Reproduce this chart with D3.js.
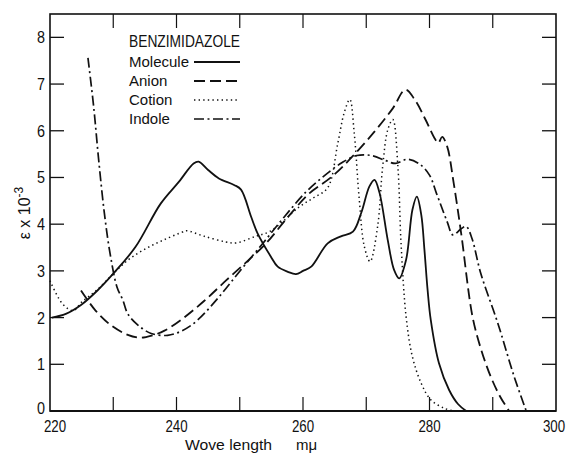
<!DOCTYPE html>
<meta charset="utf-8">
<script src="https://d3js.org/d3.v7.min.js"></script>
<style type="text/css">
body { margin: 0; background: #fff; }
.num { font-family: "Liberation Sans", Arial, sans-serif; font-size: 16px; fill: #111; }
.lab { font-family: "Liberation Sans", Arial, sans-serif; font-size: 15px; fill: #111; }
.title { font-family: "Liberation Sans", Arial, sans-serif; font-size: 16.5px; fill: #111; }
.frame line, .frame rect { stroke: #111; fill: none; }
.curve { fill: none; stroke: #111; stroke-linejoin: round; }
</style>
<body>
<div id="canvas"></div>
<script>

// absorption curves, [wave length (m\u03bc), epsilon x 10^-3]
var molecule = [[220.3,2.0],[222.5,2.08],[224.9,2.27],[227.5,2.58],[230,2.94],[233.5,3.51],[237.5,4.44],
  [240.4,4.91],[242.7,5.30],[243.5,5.34],[245,5.16],[246.7,4.98],[249.1,4.84],[250.2,4.74],[251.8,4.16],
  [252.8,3.81],[254.9,3.31],[256,3.09],[257.6,2.98],[258.9,2.93],[260,3.0],[261.3,3.09],[263.9,3.59],
  [266,3.74],[267.9,3.84],[269.2,4.24],[270.5,4.81],[271.3,4.95],[272.1,4.67],[273.4,3.66],[274.4,3.02],
  [275.2,2.84],[276.3,3.24],[277.3,4.31],[278,4.59],[278.7,4.2],[279.2,3.45],[279.7,2.59],[280.2,1.95],
  [281.5,1.02],[283.1,0.45],[284.5,0.15],[285.8,0]];

var anion = [[224.9,2.58],[227.2,2.15],[229.6,1.84],[232.3,1.63],[234.3,1.57],[236.2,1.62],[238.1,1.72],
  [240.9,1.97],[244.4,2.36],[247.8,2.79],[251.3,3.22],[254.1,3.58],[257.6,4.15],[261,4.66],[264.5,5.01],
  [267.9,5.46],[271.3,5.98],[274.2,6.48],[276.2,6.88],[277.7,6.66],[279.4,6.23],[280.8,5.84],[281.4,5.74],
  [282,5.87],[282.8,5.66],[283.8,4.9],[285,3.81],[286.8,2.02],[288.2,1.3],[289.7,0.73],[291.2,0.3],[292.6,0]];

var cation = [[220,2.79],[222,2.29],[223.7,2.15],[225,2.33],[227.5,2.6],[230,2.94],[232.5,3.25],[235.2,3.48],
  [238.1,3.67],[240.9,3.83],[241.6,3.86],[244.4,3.74],[247.8,3.62],[249.5,3.6],[252.5,3.74],[254.7,3.84],
  [257,4.08],[259.3,4.36],[261.6,4.56],[263.9,4.78],[265.5,5.73],[266.5,6.38],[267.4,6.67],[268.1,5.95],
  [268.9,4.52],[269.7,3.52],[270.6,3.2],[271.8,3.95],[272.6,5.24],[273.4,6.02],[274.2,6.24],[275,5.24],
  [275.5,3.6],[276.3,2.02],[277.3,1.16],[278.7,0.59],[280.2,0.24],[282.3,0.06],[283.9,0]];

var indole = [[226,7.56],[226.9,6.52],[227.7,5.37],[228.6,4.23],[229.5,3.37],[230.6,2.65],[231.5,2.38],
  [232.3,2.08],[233.9,1.84],[236,1.66],[238.6,1.62],[240.9,1.72],[243.2,1.93],[246.7,2.44],[250.1,3.01],
  [253.6,3.58],[257,4.15],[260.4,4.68],[263.3,5.03],[266.2,5.32],[268.5,5.47],[270.8,5.47],[273.1,5.36],
  [274.6,5.3],[276.5,5.39],[278.4,5.29],[280,5.05],[281.1,4.66],[282.8,4.05],[283.7,3.77],[285,3.9],
  [285.8,3.95],[286.7,3.7],[288.1,2.95],[290.8,1.88],[293.4,0.73],[295.3,0]];

var series = ["Molecule", "Anion", "Cotion", "Indole"];
var xTicks = [220, 230, 240, 250, 260, 270, 280, 290, 300];
var xLabels = [220, 240, 260, 280, 300];
var yTicks = [0, 1, 2, 3, 4, 5, 6, 7, 8];

var width = 569, height = 461;
var margin = {top: 14, right: 13, bottom: 50, left: 50};

var svg = d3.select("#canvas").append("svg")
  .attr("width", width).attr("height", height);

var x = d3.scaleLinear().domain([220, 300]).range([margin.left, width - margin.right]);
var y = d3.scaleLinear().domain([0, 8.5]).range([height - margin.bottom, margin.top]);

// frame + ticks --------------------------------------------------
var fr = svg.append("g").attr("class", "frame");
fr.append("rect")
  .attr("x", x(220)).attr("y", y(8.5))
  .attr("width", x(300) - x(220)).attr("height", y(0) - y(8.5))
  .style("stroke-width", 1.6);
fr.append("line").attr("x1", x(220)).attr("x2", x(300)).attr("y1", y(0)).attr("y2", y(0)).style("stroke-width", 2.2);

var tl = 14;
var inner = xTicks.filter(function(d) { return d > 220 && d < 300; });
inner.forEach(function(d) {
  fr.append("line").attr("x1", x(d)).attr("x2", x(d)).attr("y1", y(0)).attr("y2", y(0) - tl).style("stroke-width", 1.2);
  fr.append("line").attr("x1", x(d)).attr("x2", x(d)).attr("y1", y(8.5)).attr("y2", y(8.5) + tl).style("stroke-width", 1.2);
});
yTicks.filter(function(d) { return d > 0; }).forEach(function(d) {
  fr.append("line").attr("x1", x(220)).attr("x2", x(220) + tl).attr("y1", y(d)).attr("y2", y(d)).style("stroke-width", 1.3);
  fr.append("line").attr("x1", x(300)).attr("x2", x(300) - tl).attr("y1", y(d)).attr("y2", y(d)).style("stroke-width", 1.3);
});

// narrow lettering like the original figure
function narrow(sel, perChar) {
  sel.attr("textLength", function(d) { return String(d).length * perChar; })
     .attr("lengthAdjust", "spacingAndGlyphs");
}

svg.selectAll(".xl").data(xLabels).enter().append("text")
  .attr("class", "num")
  .attr("x", function(d) { return x(d) + (d === 220 ? 5 : (d === 300 ? -2 : 0)); })
  .attr("y", y(0) + 21)
  .attr("text-anchor", "middle")
  .text(function(d) { return d; })
  .call(narrow, 7.4);

svg.selectAll(".yl").data(yTicks).enter().append("text")
  .attr("class", "num")
  .attr("x", x(220) - 9)
  .attr("y", function(d) { return y(d) + 6 - (d === 0 ? 3 : 0); })
  .attr("text-anchor", "middle")
  .text(function(d) { return d; })
  .call(narrow, 8);

// axis titles
svg.append("text").attr("class", "lab")
  .attr("x", 185).attr("y", 450)
  .attr("textLength", 87).attr("lengthAdjust", "spacingAndGlyphs")
  .text("Wove length");
svg.append("text").attr("class", "lab")
  .attr("x", 296).attr("y", 450)
  .text("m\u03bc");

var yt = svg.append("text").attr("class", "lab")
  .style("font-size", "16px")
  .attr("transform", "translate(30,213) rotate(-90)")
  .attr("text-anchor", "middle");
yt.append("tspan").text("\u03b5 x 10");
yt.append("tspan").attr("dy", -7).style("font-size", "12px").text("-3");

// curves ---------------------------------------------------------
var line = d3.line()
  .x(function(d) { return x(d[0]); })
  .y(function(d) { return y(d[1]); })
  .curve(d3.curveCatmullRom.alpha(0.5));

var styles = [
  {data: molecule, dash: null, w: 1.8},
  {data: anion, dash: "11,5", w: 1.8},
  {data: cation, dash: "1.4,3.2", w: 1.5},
  {data: indole, dash: "10,3.5,2,3.5", w: 1.7}
];

styles.forEach(function(s) {
  svg.append("path")
    .attr("class", "curve")
    .attr("d", line(s.data))
    .style("stroke-width", s.w)
    .style("stroke-dasharray", s.dash);
});

// legend ---------------------------------------------------------
svg.append("text").attr("class", "title")
  .attr("x", 129).attr("y", 47)
  .attr("textLength", 111).attr("lengthAdjust", "spacingAndGlyphs")
  .text("BENZIMIDAZOLE");

series.forEach(function(name, i) {
  var cy = 62 + i * 19;
  svg.append("text").attr("class", "lab")
    .attr("x", 129).attr("y", cy + 5)
    .text(name);
  svg.append("line")
    .attr("class", "curve")
    .attr("x1", 194).attr("x2", 240)
    .attr("y1", cy).attr("y2", cy)
    .style("stroke-width", styles[i].w)
    .style("stroke-dasharray", styles[i].dash);
});
</script>
</body>
